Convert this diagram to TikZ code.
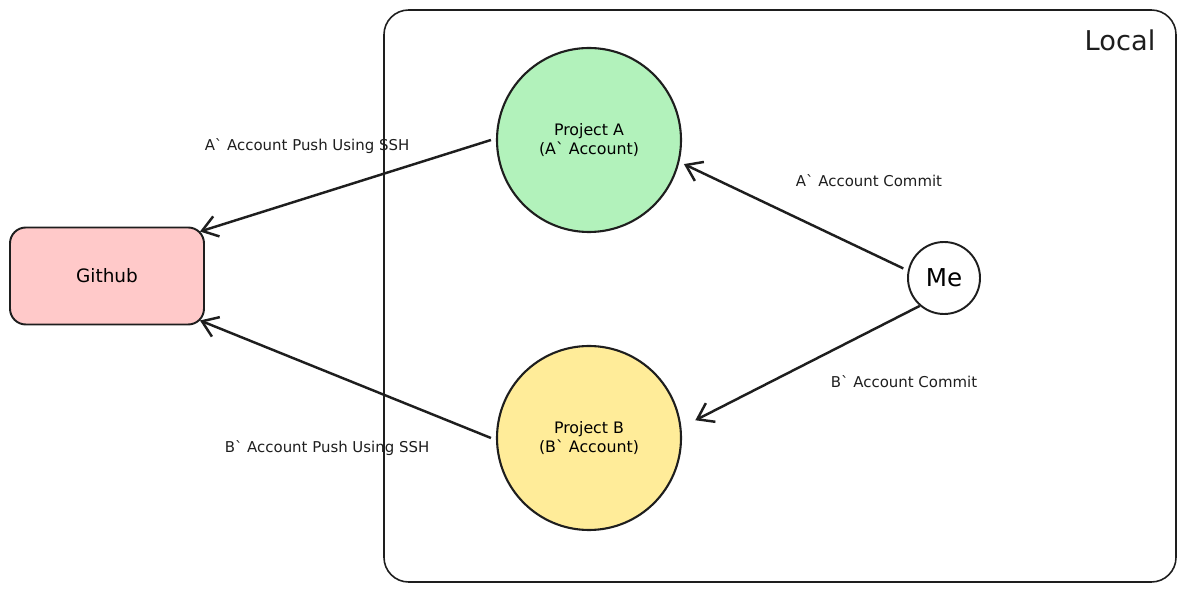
\documentclass[tikz,border=0pt]{standalone}
\usepackage{fontspec}
\setmainfont{DejaVu Sans}
\usepackage{xcolor}
\usepackage{tikz}
\usetikzlibrary{arrows.meta,positioning}
\definecolor{Ink}{HTML}{1E1E1E}
\definecolor{ProjGreen}{HTML}{B2F2BB}
\definecolor{ProjYellow}{HTML}{FFEC99}
\definecolor{HubRed}{HTML}{FFC9C9}

\begin{document}
\begin{tikzpicture}[
  proj/.style={circle,draw=Ink,line width=1.2pt,minimum size=3.68cm,align=center,font=\fontsize{9}{11}\selectfont,inner sep=0pt},
  hub/.style={draw=Ink,line width=1.1pt,rounded corners=9pt,fill=HubRed,minimum width=3.88cm,minimum height=1.94cm,font=\fontsize{10.5}{12}\selectfont},
  person/.style={circle,draw=Ink,line width=1.1pt,fill=white,minimum size=1.44cm,inner sep=0pt,font=\fontsize{14}{16}\selectfont},
  zone/.style={draw=Ink,line width=0.9pt,rounded corners=14pt,minimum width=15.84cm,minimum height=11.44cm},
  lbl/.style={font=\fontsize{8.5}{10}\selectfont,text=Ink},
  arr/.style={-{Straight Barb[length=3mm,width=4.2mm]},line width=1.4pt,draw=Ink}
]
\useasboundingbox (0,0) rectangle (23.72,11.86);
\node[zone] (local) at (15.6,5.94) {};
\node[font=\fontsize{15.5}{18}\selectfont,text=Ink] (localtxt) at (22.4,11.06) {Local};
\node[proj,fill=ProjGreen] (pa) at (11.78,9.06) {Project A\\(A\textasciigrave{} Account)};
\node[proj,fill=ProjYellow] (pb) at (11.78,3.10) {Project B\\(B\textasciigrave{} Account)};
\node[hub] (gh) at (2.14,6.34) {Github};
\node[person] (me) at (18.88,6.30) {Me};
\draw[arr] ([xshift=-1mm]pa.west) -- ([xshift=-1mm,yshift=-1mm]gh.north east);
\draw[arr] ([xshift=-1mm]pb.west) -- ([xshift=-1mm,yshift=1mm]gh.south east);
\draw[arr] ([xshift=-1mm]me.165) -- ([xshift=1mm]pa.-15);
\draw[arr] (me.229) -- ([xshift=3mm]pb.11);
\node[lbl] (pushA) at (6.14,8.94) {A\textasciigrave{} Account Push Using SSH};
\node[lbl] (pushB) at (6.54,2.90) {B\textasciigrave{} Account Push Using SSH};
\node[lbl] (commitA) at (17.38,8.24) {A\textasciigrave{} Account Commit};
\node[lbl] (commitB) at (18.08,4.22) {B\textasciigrave{} Account Commit};
\end{tikzpicture}
\end{document}
